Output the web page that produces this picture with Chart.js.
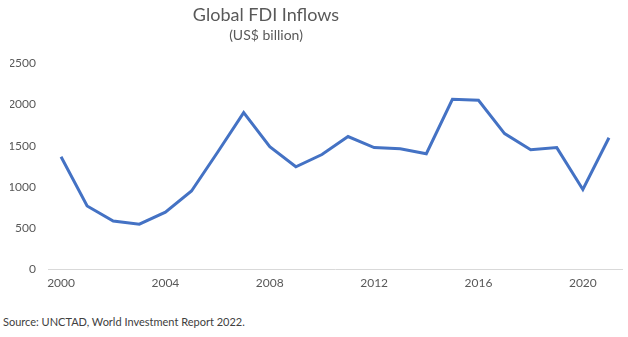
<!DOCTYPE html>
<html><head><meta charset="utf-8">
<script src="https://cdn.jsdelivr.net/npm/chart.js@4"></script>
<style>
html,body{margin:0;padding:0;background:#fff;}
#wrap{position:relative;width:628px;height:337px;overflow:hidden;font-family:Lato,"Open Sans",sans-serif;}
#title{position:absolute;left:0;width:532px;top:3px;text-align:center;font-size:18px;color:#595959;}
#sub{position:absolute;left:0;width:532px;top:26px;text-align:center;font-size:14px;color:#595959;}
#src{position:absolute;left:3px;top:315px;font-size:11px;color:#404040;}
#cv{position:absolute;left:0;top:0;}
</style></head>
<body><div id="wrap">
<canvas id="cv" width="628" height="296"></canvas>
<div id="title">Global FDI Inflows</div>
<div id="sub">(US$ billion)</div>
<div id="src">Source: UNCTAD, World Investment Report 2022.</div>
</div>
<script>
const years = ["2000","2001","2002","2003","2004","2005","2006","2007","2008","2009","2010","2011","2012","2013","2014","2015","2016","2017","2018","2019","2020","2021"];
const inflows = [1366,770,588,550,695,951,1420,1900,1488,1244,1392,1610,1476,1463,1402,2061,2049,1646,1451,1476,970,1595];
const yTicks = [0,500,1000,1500,2000,2500];
const xTickLabels = ["2000","2004","2008","2012","2016","2020"];

new Chart(document.getElementById('cv'), {
  type: 'line',
  data: { labels: years, datasets: [{ data: inflows, borderColor: '#4472C4', borderWidth: 3, pointRadius: 0, tension: 0, fill: false }] },
  options: {
    responsive: false, animation: false,
    layout: { padding: { top: 63, right: 6, left: 10, bottom: 0 } },
    plugins: { legend: { display: false }, tooltip: { enabled: false } },
    scales: {
      x: {
        offset: true,
        grid: { display: false, drawTicks: false },
        border: { color: '#D9D9D9', width: 1 },
        ticks: { autoSkip: false, maxRotation: 0, color: '#595959', font: { family: 'Lato', size: 12 }, padding: 6,
          callback: function(v, i) { const l = this.getLabelForValue(v); return xTickLabels.includes(l) ? l : ''; } }
      },
      y: {
        min: 0, max: 2500,
        afterBuildTicks: (s) => { s.ticks = yTicks.map(v => ({ value: v })); },
        afterFit: (s) => { s.width = 38; },
        grid: { display: false, drawTicks: false },
        border: { display: false },
        ticks: { color: '#595959', font: { family: 'Lato', size: 12 }, padding: 12, callback: (v) => String(v) }
      }
    }
  }
});
</script>
</body></html>
